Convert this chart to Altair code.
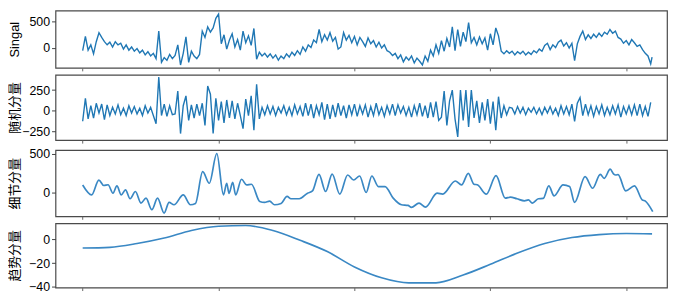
import altair as alt
import pandas as pd

FONT = "Liberation Sans, Arial, Noto Sans CJK SC, sans-serif"
BLUE = "#1f77b4"
BLUE_LIGHT = "#3a88c4"

# ---------------- data ----------------
signal_x = list(range(0, 420, 2)) + [419]
signal_y = [
    -50, 220, -40, 60, -110, 120, 290, 200, 120, 60,
    110, 20, 120, 60, 90, -20, 60, -40, 20, -60,
    -10, -90, -40, -130, -70, -150, -100, -200, 320, -270,
    -180, -230, -120, -200, -140, 60, -320, -100, 210, -270,
    -60, -150, -200, -120, 320, 200, 400, 300, 380, 560,
    640, 80, 250, -20, 150, 270, 20, 160, -40, 320,
    100, 230, 50, 370, -210, -80, -150, -100, -170, -110,
    -190, -130, -230, -150, -200, -110, -170, -80, -140, -50,
    -120, 20, -60, 60, 10, 150, 100, 350, 120, 250,
    150, 290, 130, 200, -20, 20, 290, 150, 240, 100,
    220, 60, 200, 120, 30, 190, 80, 140, 20, 110,
    0, 60, -50, -80, -140, -100, -200, -130, -260, -170,
    -230, -150, -280, -190, -250, -320, -150, -250, -40, -150,
    60, -100, 140, -60, 180, 20, 400, -50, 350, 30,
    300, 120, 480, 100, 200, 60, 210, 80, 190, -40,
    270, 60, 380, 230, -60, -110, -50, -100, -60, -130,
    -70, -110, -60, -130, -80, -120, -50, -90, -20, -60,
    50, 90, -30, 60, 10, 110, 150, 40, 100, 0,
    90, -240, 80, 220, 320, 160, 250, 180, 260, 200,
    280, 220, 300, 260, 350, 280, 320, 200, 170, 90,
    140, 60, 160, 100, 30, 60, -30, -100, -150, -300,
    -170,
]

random_x = list(range(0, 420, 2))
random_y = [
    -130, 150, -100, 60, -90, 90, -30, 80, -110, 70,
    -60, 40, -40, 70, -50, 30, -60, 60, -30, 50,
    -40, 30, -60, 60, -30, 40, -60, -160, 410, -60,
    80, -70, 60, -50, -40, 240, -280, 60, 180, -120,
    70, -90, 80, -60, 90, -180, 300, 200, -280, 150,
    -120, 110, -150, 130, -90, 120, -100, 90, -60, -220,
    140, -60, 180, -240, 320, -100, 40, -50, 60, -40,
    50, -60, 40, -30, 60, -50, 40, -60, 70, -40,
    50, -70, 90, -60, 80, -90, 60, -50, 100, -110,
    80, -100, 70, -80, 90, -60, 60, -90, 70, -50,
    80, -70, 60, -40, 70, -80, 50, -60, 90, -50,
    40, -70, 60, -40, 80, -60, 70, -30, 50, -60,
    40, -80, 60, -50, 90, -70, 60, -90, 100, -80,
    110, -120, -80, 240, -180, 120, 250, -100, -320, 250,
    -120, 250, -200, 250, -90, 120, -150, 100, -120, 140,
    -160, 110, -240, 170, -90, 60, -50, 40, 30, -40,
    50, -30, 40, -50, 30, -20, 40, -40, 30, -50,
    40, -30, 50, -40, 30, -60, 60, -40, 50, -50,
    80, -130, 90, 160, -60, 80, -50, 60, -70, 50,
    -40, 70, -60, 40, -50, 60, -40, 70, -80, 50,
    -40, 60, -50, 70, -60, 80, -60, 50, -70, 100,
]

detail_x = [
    0, 6.6, 11.9, 15.5, 18.7, 22.3, 25.2, 28.4, 31.5, 34.9,
    38.8, 42.9, 46.6, 50.9, 55.1, 59.9, 63.6, 67.2, 74, 79.3,
    83, 88.3, 93.2, 98.7, 103.6, 106, 107.7, 110.4, 112.6, 116.9,
    120.6, 124.2, 130.3, 133.9, 137.6, 141.2, 146, 150.4, 153.3, 159.4,
    165.5, 169.1, 173.9, 178.8, 183.6, 189.2, 195, 199.4, 203.8, 208.6,
    212.8, 217.6, 222.5, 228.5, 234.6, 239.4, 241.9, 247.5, 252.3, 260.8,
    265, 274.2, 278.8, 283.8, 287.9, 290.4, 297, 304.2, 311, 314.7,
    319.5, 325.1, 328, 330.9, 335.3, 338.9, 343, 346.9, 353.5, 358.3,
    362, 369.7, 375.3, 380.9, 383.8, 388.2, 390.6, 392.3, 394, 399.6,
    406.1, 411.7, 414.1, 419.5,
]
detail_y = [
    97, -30, 160, 90, 100, -8, 85, -30, 34, -80,
    13, -135, -72, -220, -72, -263, -127, -157, -30, -157,
    -140, 267, 119, 500, -30, 119, -10, 131, -30, 170,
    97, 106, -114, -127, -110, -157, -140, -50, -80, -80,
    -8, 20, 233, 13, 237, -21, 225, 161, 212, 0,
    212, 76, 76, -72, -157, -165, -191, -135, -186, -8,
    -20, 148, 97, 246, 106, 100, -21, 216, -72, -60,
    -80, -106, -95, -135, -80, -75, 85, -42, 97, 76,
    -127, 203, 55, 233, 182, 300, 240, 225, 230, 21,
    85, -93, -110, -245,
]

trend_x = [0, 20, 40, 60, 80, 100, 120, 140, 160, 180, 200,
           220, 240, 260, 280, 300, 320, 340, 360, 380, 400, 419]
trend_y = [-7.3, -6.7, -3.5, 1.1, 7.4, 11.0, 11.6, 7.4, -0.8, -10.3, -23.2,
           -32.3, -36.6, -36.5, -30.0, -21.0, -11.5, -3.5, 1.5, 4.0, 4.9, 4.6]

x_ticks = [0, 100, 200, 300, 400]
x_domain = [-20, 430]

panels = [
    ("Singal", signal_x, signal_y, [-375, 709], [0, 500], 58, "linear", BLUE, 1.4),
    ("随机分量", random_x, random_y, [-360, 437], [-250, 0, 250], 66, "linear", BLUE, 1.4),
    ("细节分量", detail_x, detail_y, [-305, 545], [0, 500], 67, "monotone", BLUE_LIGHT, 1.7),
    ("趋势分量", trend_x, trend_y, [-40.5, 13.5], [-40, -20, 0], 65, "monotone", BLUE_LIGHT, 1.7),
]

charts = []
for title, xs, ys, dom, yt, h, interp, col, sw in panels:
    df = pd.DataFrame({"x": xs, "y": ys})
    c = alt.Chart(df).mark_line(
        color=col, strokeWidth=sw, interpolate=interp, clip=True
    ).encode(
        x=alt.X("x:Q",
                scale=alt.Scale(domain=x_domain, nice=False, zero=False),
                axis=alt.Axis(values=x_ticks, labels=False, title=None,
                              grid=False, domain=False, ticks=True,
                              tickSize=3, tickColor="#666")),
        y=alt.Y("y:Q",
                scale=alt.Scale(domain=dom, nice=False, zero=False),
                axis=alt.Axis(values=yt, title=title, grid=False, domain=False,
                              tickSize=4, tickColor="#444",
                              labelFont=FONT, labelFontSize=12.5,
                              labelColor="#000", labelPadding=2,
                              titleFont=FONT, titleFontSize=13,
                              titleFontWeight="normal", titleColor="#000",
                              titlePadding=2, minExtent=32, maxExtent=32)),
    ).properties(width=618, height=h)
    charts.append(c)

chart = alt.vconcat(*charts, spacing=1).properties(
    padding={"left": 0, "top": 0, "right": 0, "bottom": 0}
).configure_view(
    stroke="#4a4a4a", strokeWidth=1.2, fill="white"
)

chart.save("out.html", embed_options={"renderer": "svg", "actions": False})
